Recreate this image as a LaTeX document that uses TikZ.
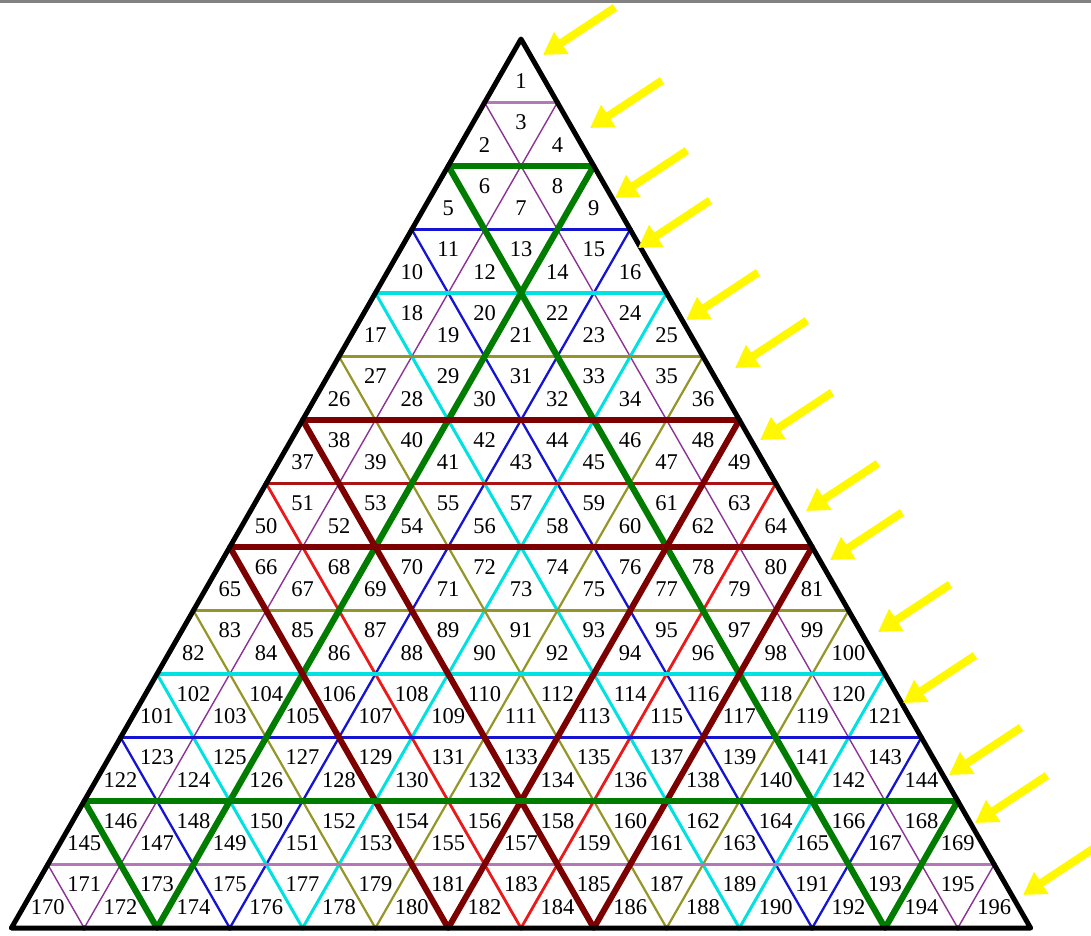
\documentclass[tikz,border=0pt]{standalone}
\usepackage{fontspec}
\setmainfont{Liberation Serif}
\usetikzlibrary{arrows.meta}
\definecolor{cpurple}{RGB}{140,50,150}
\definecolor{chpurple}{RGB}{180,120,185}
\definecolor{cgreen}{RGB}{0,125,0}
\definecolor{cblue}{RGB}{20,20,210}
\definecolor{ccyan}{RGB}{0,225,225}
\definecolor{colive}{RGB}{150,150,40}
\definecolor{cdarkred}{RGB}{125,0,0}
\definecolor{cred}{RGB}{235,25,25}
\definecolor{chred}{RGB}{170,20,20}
\definecolor{cyel}{RGB}{255,248,0}
\definecolor{topbar}{RGB}{130,130,130}
\tikzset{
  lab/.style={font=\fontsize{22.5}{22.5}\selectfont, text=black, inner sep=0pt},
  yarrow/.style={draw=cyel, line width=8pt, -{Triangle[length=22pt,width=25pt]}},
  outline/.style={draw=black, line width=5pt, line join=round},
}
\begin{document}
\begin{tikzpicture}[x=1pt,y=-1pt]
\useasboundingbox (0,0) rectangle (1091,935);
\fill[white] (0,0) rectangle (1091,935);
\fill[topbar] (0,0) rectangle (1091,2.5);
% grid points
\foreach \k in {0,...,14}{
  \foreach \i in {0,...,\k}{
    \coordinate (p-\k-\i) at ({521-36.4*\k+72.8*\i},{39+63.5*\k});
  }
}
% coloured lines: thin first, thick last
\foreach \k/\hc/\dc/\hw/\dw [evaluate=\k as \j using {int(14-\k)}] in
  {1/chpurple/cpurple/2.6/1.4, 3/cblue/cblue/2.5/2.3, 4/ccyan/ccyan/3.2/3,
   5/colive/colive/2.8/2.2, 7/chred/cred/3.8/2.8, 9/colive/colive/2.8/2.2,
   10/ccyan/ccyan/3.2/3, 11/cblue/cblue/2.5/2.3, 13/chpurple/cpurple/2.6/1.4,
   2/cgreen/cgreen/6.2/6.2, 6/cdarkred/cdarkred/6/6, 8/cdarkred/cdarkred/6/6,
   12/cgreen/cgreen/6.2/6.2}{
  \draw[\hc, line width=\hw pt] (p-\k-0) -- (p-\k-\k);
  \draw[\dc, line width=\dw pt] (p-\k-0) -- (p-14-\j);
  \draw[\dc, line width=\dw pt] (p-\k-\k) -- (p-14-\k);
  \fill[\dc] (p-\k-0) circle (2.6) (p-\k-\k) circle (2.6)
             (p-14-\j) circle (2.6) (p-14-\k) circle (2.6);
}
% outline
\draw[outline] (p-0-0) -- (p-14-0) -- (p-14-14) -- cycle;
% labels
\foreach \r in {1,...,14}{
  \pgfmathtruncatemacro\tmax{2*\r-1}
  \foreach \t in {1,...,\tmax}{
    \pgfmathtruncatemacro\n{(\r-1)*(\r-1)+\t}
    \pgfmathsetmacro\xx{521+36.4*(\t-\r)}
    \pgfmathsetmacro\yy{39+63.5*(\r-1)+20*(1+mod(\t,2))+2.5*mod(\t,2)}
    \node[lab] (n\n) at (\xx,\yy) {\n};
  }
}
% yellow arrows
\foreach \i/\tx/\ty in {1/543/55, 2/590/128, 3/615/198, 4/638/248, 5/686/320,
  6/735/368, 7/760/440, 8/806/511, 9/830/560, 10/878/632, 11/903/703,
  12/949/775, 13/975/823, 14/1023/895}{
  \coordinate (tip\i) at (\tx,\ty);
  \coordinate (tail\i) at (\tx+72,\ty-47.5);
  \draw[yarrow] (tail\i) -- (tip\i);
}
\end{tikzpicture}
\end{document}
